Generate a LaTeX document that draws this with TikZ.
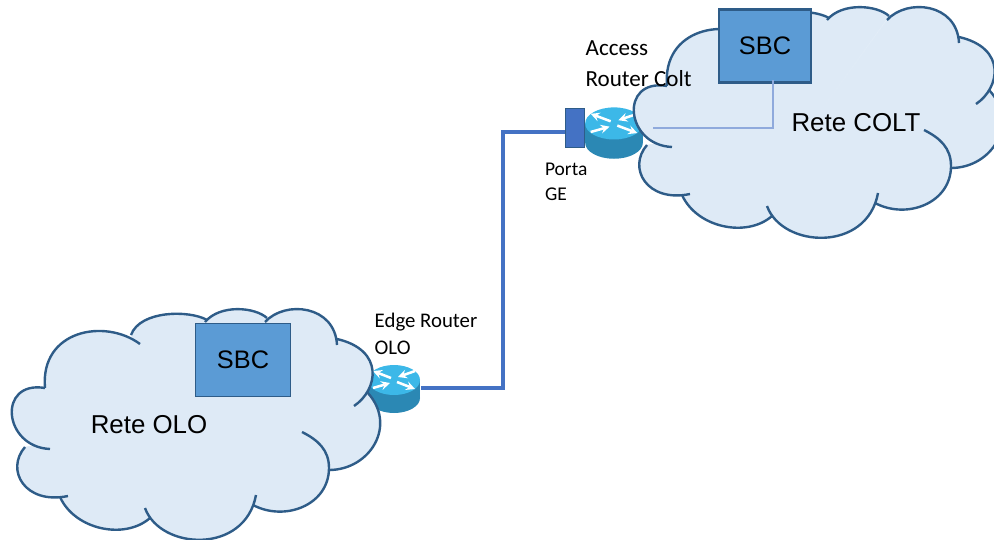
\documentclass[tikz,border=0pt]{standalone}
\usepackage{fontspec}
\usepackage{xcolor}
\setmainfont{Liberation Sans}
\newfontfamily\labelfont{Carlito}
\usetikzlibrary{arrows, positioning}
\definecolor{cloudfill}{RGB}{222, 234, 246}
\definecolor{cloudline}{RGB}{46, 92, 136}
\definecolor{sbcfill}{RGB}{91, 155, 213}
\definecolor{linkblue}{RGB}{68, 114, 196}
\definecolor{lanblue}{RGB}{143, 170, 220}
\definecolor{routertop}{RGB}{60, 184, 232}
\definecolor{routerside}{RGB}{43, 136, 180}
% lobes of one cloud, each one ends in its small hook
\newcommand{\cloudlobes}{
    \lobe{(45,388) .. controls (-3,380) and (3,447) .. (50,449)}
    \lobe{(25,447) .. controls (5,470) and (25,505) .. (68,496)}
    \lobe{(60,497) .. controls (75,530) and (125,540) .. (150,518)}
    \lobe{(145,508) .. controls (160,550) and (245,555) .. (256,495)}
    \lobe{(253,505) .. controls (285,522) and (329,505) .. (329,468) .. controls (329,450) and (318,440) .. (302,432)}
    \lobe{(329,470) .. controls (370,470) and (398,425) .. (367,392)}
    \lobe{(354,406) .. controls (378,390) and (385,350) .. (337,339)}
    \lobe{(337,345) .. controls (335,305) and (285,300) .. (265,322)}
    \lobe{(267,318) .. controls (255,307) and (220,304) .. (205,322)}
    \lobe{(207,320) .. controls (190,310) and (140,310) .. (131,335)}
    \lobe{(140,344) .. controls (105,318) and (40,330) .. (45,388)}
}
\newcommand{\lobefill}[1]{\path[draw=cloudfill, fill=cloudfill] (190,425) -- #1 -- cycle;}
\newcommand{\lobeline}[1]{\draw[cloudline, line width=1.8pt] #1;}
\tikzset{
    retecloud/.pic={
        \let\lobe\lobefill \cloudlobes
        \let\lobe\lobeline \cloudlobes
    },
    router/.pic={
        \fill[routerside] (-26,-8) rectangle (26,10);
        \fill[routerside] (0,10) ellipse [x radius=26, y radius=15];
        \fill[routertop] (0,-8) ellipse [x radius=26, y radius=15];
        \draw[white, line width=1.9pt, ->] (-3,-10) -- (-21,-17);
        \draw[white, line width=1.9pt, ->] (3,-6) -- (21,1);
        \draw[white, line width=1.9pt, ->] (-21,0) -- (-4,-5);
        \draw[white, line width=1.9pt, ->] (21,-17) -- (4,-11);
    }
}
\begin{document}
\begin{tikzpicture}[
        x=0.75pt, y=-0.75pt,
        > = stealth, % arrow head style
        node distance = 2pt
    ]
        \tikzstyle{routerbox}=[inner sep=0pt, minimum width=39.75pt, minimum height=37.5pt]
        \tikzstyle{sbc}=[draw=cloudline, fill=sbcfill, minimum width=71pt, minimum height=55pt, font=\fontsize{19}{23}\selectfont]
        \tikzstyle{rete}=[font=\fontsize{19.4}{23}\selectfont]
        \tikzstyle{tag}=[align=left, inner sep=0pt, font=\labelfont]

        \useasboundingbox (0,0) rectangle (994,539);

        \node[routerbox] (routerolo) at (394,388) {};
        \node[routerbox, minimum width=43.5pt] (routercolt) at (614,132) {};
        \coordinate (turn) at (503,260);

        % link goes under the port and the clouds
        \draw[linkblue, line width=3pt] (routerolo.east) -| (turn) |- (routercolt.west);

        \pic at (routerolo) {router};
        \pic[xscale=1.11, yscale=1.07] at (routercolt) {router};

        \pic at (0,0) {retecloud};
        \pic at (622,-302) {retecloud};

        \node[sbc, line width=1pt] (sbcolo) at (243,360) {SBC};
        \node[sbc, line width=1.8pt, minimum width=69pt] (sbccolt) at (765,46) {SBC};

        \node[rete] (reteolo) at (149,425) {Rete OLO};
        \node[rete] (retecolt) at (856,123) {Rete COLT};

        \coordinate (lanstart) at (773,80);
        \coordinate (lanend) at (653,128);
        \draw[lanblue, line width=1.1pt] (lanstart) |- (lanend);

        \node[draw=cloudline, fill=linkblue, line width=0.8pt, inner sep=0pt, minimum width=14pt, minimum height=29pt,
            left=0pt of routercolt, yshift=3pt] (porta) {};

        \node[tag, above=6pt of routerolo, xshift=24pt, font=\labelfont\fontsize{15.6}{20}\selectfont] (labelolo) {Edge Router\\OLO};
        \node[tag, above=14.5pt of routercolt, xshift=18.5pt, font=\labelfont\fontsize{17.3}{23.5}\selectfont] (labelcolt) {Access\\Router Colt};
        \node[tag, below=11pt of porta, xshift=-6.5pt, font=\labelfont\fontsize{14.6}{18.8}\selectfont] (labelporta) {Porta\\GE};
\end{tikzpicture}
\end{document}
